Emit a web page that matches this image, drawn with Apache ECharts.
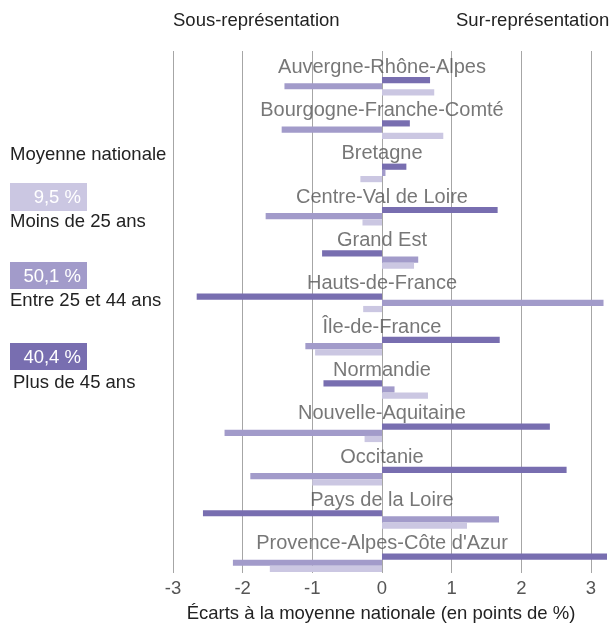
<!DOCTYPE html>
<html>
<head>
<meta charset="utf-8">
<script src="https://cdn.jsdelivr.net/npm/echarts@6/dist/echarts.min.js"></script>
<style>
  html, body { margin: 0; padding: 0; background: #fff; }
  #chart { width: 614px; height: 625px; }
</style>
</head>
<body>
<div id="chart"></div>
<script>
// données
var regions = ['Auvergne-Rhône-Alpes', 'Bourgogne-Franche-Comté', 'Bretagne', 'Centre-Val de Loire',
  'Grand Est', 'Hauts-de-France', 'Île-de-France', 'Normandie', 'Nouvelle-Aquitaine',
  'Occitanie', 'Pays de la Loire', "Provence-Alpes-Côte d'Azur"];
var plus45 = [0.69, 0.40, 0.35, 1.66, -0.86, -2.66, 1.69, -0.84, 2.41, 2.65, -2.57, 3.23];
var entre25_44 = [-1.40, -1.44, 0.05, -1.67, 0.52, 3.18, -1.10, 0.18, -2.26, -1.89, 1.68, -2.14];
var moins25 = [0.75, 0.88, -0.31, -0.28, 0.46, -0.27, -0.96, 0.66, -0.25, -1.00, 1.22, -1.61];
var xTicks = [-3, -2, -1, 0, 1, 2, 3];
var legendNames = ['Moins de 25 ans', 'Entre 25 et 44 ans', 'Plus de 45 ans'];
var legendValues = ['9,5 %', '50,1 %', '40,4 %'];

var cDark = '#786eb0', cMid = '#a29bca', cLight = '#cbc7e2';
var font = 'Liberation Sans, Arial, sans-serif';
var xMin = -3, xMax = 3.23;

var ec = echarts.init(document.getElementById('chart'));

// couleurs des lignes de grille : la dernière (bord max) invisible
var gridColors = xTicks.map(function () { return '#a6a6a6'; });
gridColors.push('rgba(0,0,0,0)');

var labelData = regions.map(function (r, i) { return [0, r]; });

var legendY = [[183, 28, 222], [262, 27, 300.5], [343, 27, 382.5]];
var legendCols = [cLight, cMid, cDark];
var graphics = [
  { type: 'text', left: 173, top: 11, style: { text: 'Sous-représentation', font: '18.5px ' + font, fill: '#222' } },
  { type: 'text', left: 456, top: 11, style: { text: 'Sur-représentation', font: '18.5px ' + font, fill: '#222' } },
  { type: 'text', left: 10, top: 145, style: { text: 'Moyenne nationale', font: '18.5px ' + font, fill: '#222' } },
  { type: 'text', x: 381, y: 614, style: { text: 'Écarts à la moyenne nationale (en points de %)', font: '18.5px ' + font, fill: '#222', align: 'center', verticalAlign: 'middle' } }
];
legendNames.forEach(function (n, i) {
  var ly = legendY[i];
  graphics.push({ type: 'rect', shape: { x: 10, y: ly[0], width: 77, height: ly[1] }, style: { fill: legendCols[i] } });
  graphics.push({ type: 'text', x: 81, y: ly[0] + ly[1] / 2 + 1, style: { text: legendValues[i], font: '18.5px ' + font, fill: '#fff', align: 'right', verticalAlign: 'middle' } });
  graphics.push({ type: 'text', x: i == 2 ? 13 : 10, y: ly[2], style: { text: n, font: '18.5px ' + font, fill: '#222', verticalAlign: 'middle' } });
});

var option = {
  animation: false,
  textStyle: { fontFamily: font },
  grid: [
    { left: 173, right: 7, top: 51, bottom: 52 },
    { left: 173, right: 7, top: 64.6, bottom: 40.6 }
  ],
  xAxis: [
    {
      gridIndex: 0, type: 'value', min: xMin, max: xMax, interval: 1,
      axisLine: { show: false }, axisTick: { show: false },
      axisLabel: { color: '#555', fontSize: 18.5, margin: 6, showMaxLabel: false },
      splitLine: { show: true, lineStyle: { color: gridColors, width: 1 } }
    },
    {
      gridIndex: 1, type: 'value', min: xMin, max: xMax, show: false,
      splitLine: { show: false }
    }
  ],
  yAxis: [
    { gridIndex: 0, type: 'value', show: false, splitLine: { show: false } },
    { gridIndex: 1, type: 'category', data: regions, inverse: true, show: false }
  ],
  graphic: graphics,
  series: [
    { name: 'Plus de 45 ans', type: 'bar', xAxisIndex: 1, yAxisIndex: 1, data: plus45,
      barWidth: 6.2, barGap: '0%', itemStyle: { color: cDark } },
    { name: 'Entre 25 et 44 ans', type: 'bar', xAxisIndex: 1, yAxisIndex: 1, data: entre25_44,
      barWidth: 6.2, barGap: '0%', itemStyle: { color: cMid } },
    { name: 'Moins de 25 ans', type: 'bar', xAxisIndex: 1, yAxisIndex: 1, data: moins25,
      barWidth: 6.2, barGap: '0%', itemStyle: { color: cLight } },
    { name: 'régions', type: 'scatter', xAxisIndex: 1, yAxisIndex: 1, data: labelData,
      symbolSize: 0, silent: true, z: 5,
      label: {
        show: true, position: 'inside', offset: [0, -19],
        formatter: function (p) { return p.value[1]; },
        color: '#555', fontSize: 20, fontFamily: font
      }
    }
  ]
};
ec.setOption(option);
</script>
</body>
</html>
